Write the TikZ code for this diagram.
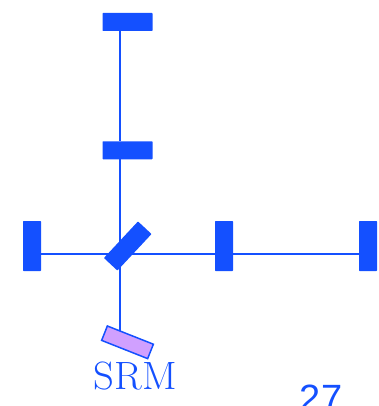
\documentclass[tikz,border=0pt]{standalone}
\usepackage{fontspec}
\newfontfamily\labelsans{Liberation Sans}
\usetikzlibrary{backgrounds}
\definecolor{beamblue}{HTML}{1450FF}
\definecolor{srmfill}{HTML}{D0A0FF}
\tikzset{
  x=1pt,y=-1pt,
  mirrorbox/.style={fill=beamblue,inner sep=0pt,outer sep=0pt,minimum width=#1,rounded corners=0.6pt},
  hmirror/.style={mirrorbox=50pt,minimum height=18pt},
  vmirror/.style={mirrorbox=18pt,minimum height=50pt},
  beam/.style={draw=beamblue,line width=1.9pt},
}
\begin{document}
\begin{tikzpicture}
\useasboundingbox (0,0) rectangle (379,406);
\clip (0,0) rectangle (379,406);
\node[hmirror] (mtop) at (127.5,22) {};
\node[hmirror] (mmid) at (127.5,150.3) {};
\node[vmirror] (mleft) at (32,246) {};
\node[vmirror] (minner) at (224,246) {};
\node[vmirror] (mright) at (368,246) {};
\node[mirrorbox=50pt,minimum height=18.5pt,rotate=47] (bs) at (127.7,246) {};
\node[draw=beamblue,fill=srmfill,line width=1.5pt,inner sep=0pt,outer sep=0pt,minimum width=49.5pt,minimum height=15.5pt,rotate=-21.6] (srm) at (127.5,342.3) {};
\coordinate (cross) at (119.7,254);
\coordinate (srmtop) at (119.7,335);
\begin{scope}[on background layer]
\draw[beam] (cross |- mtop.south) -- (cross |- mmid.north);
\draw[beam] (cross |- mmid.south) -- (cross);
\draw[beam] (cross) -- (srmtop);
\draw[beam] (mleft.east |- cross) -- (minner.west |- cross);
\draw[beam] (minner.east |- cross) -- (mright.west |- cross);
\end{scope}
\node[text=beamblue,inner sep=0pt,anchor=base,font=\fontsize{39.5}{40}\selectfont\addfontfeature{FakeBold=0.6},xscale=1.03] (srmlabel) at (135.5,389) {SRM};
\node[text=beamblue,inner sep=0pt,anchor=base,font=\labelsans\fontsize{38}{40}\selectfont] (pagenum) at (321,411) {27};
\end{tikzpicture}
\end{document}
